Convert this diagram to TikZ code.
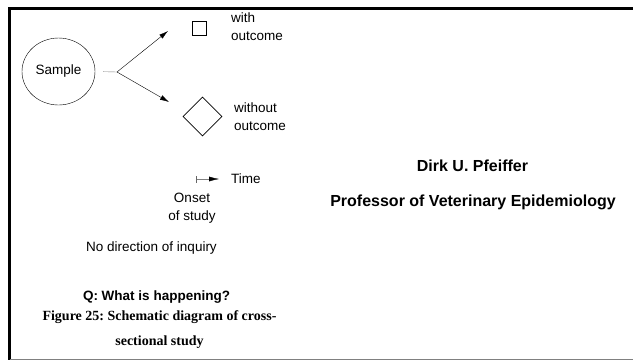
\documentclass[tikz,border=0pt]{standalone}
\usepackage{fontspec}
\setmainfont{Liberation Sans}
\newfontfamily\capfont{Liberation Serif}
\usepackage{tikz}
\usetikzlibrary{arrows.meta,positioning,shapes.geometric}
\frenchspacing

\begin{document}
\begin{tikzpicture}[x=1pt,y=-1pt,
  font=\fontsize{13.5}{18}\selectfont,
  txt/.style={inner sep=0pt,align=left},
  arr/.style={-{Latex[length=9pt,width=5pt]},thin},
  frame/.style={line width=2.5pt}
]
\useasboundingbox (0,0) rectangle (633,360);
% frame of the slide
\draw[frame] (633,8.5) -- (9.5,8.5) -- (9.5,360);
\draw[gray,thin] (9.5,359.5) -- (633,359.5);

% sample and the two groups
\node[draw,ellipse,thin,minimum width=73pt,minimum height=67pt,inner sep=0pt] (sample) at (58.5,71.5) {Sample};
\coordinate (split) at (117,72);
\node[draw,thick,minimum size=14pt,inner sep=0pt] (with) at (199,28.5) {};
\node[draw,thick,diamond,minimum size=39pt,inner sep=0pt] (without) at (202.5,116.5) {};
\coordinate (withend) at (168,31);
\coordinate (withoutend) at (169,102);
\node[txt,anchor=west] (withlbl) at (231,27) {with\\outcome};
\node[txt,anchor=west] (withoutlbl) at (234,117) {without\\outcome};

\draw[gray,thin,shorten <=8pt] (sample.east) -- (split);
\draw[arr] (split) -- (withend);
\draw[arr] (split) -- (withoutend);

% time axis
\coordinate (onset) at (196,179);
\coordinate (timeend) at (219,179);
\node[txt,anchor=west] (time) at (231,179) {Time};
\draw[gray,thin,{Bar[width=7pt,black!60]}-{Latex[black,length=10pt,width=5pt]}] (onset) -- (timeend);
\node[txt,align=center] (onsetlbl) at (192,208) {Onset\\of study};
\node[txt] (inquiry) at (151.5,248) {No direction of inquiry};
\node[txt,font=\fontsize{13.5}{18}\selectfont\bfseries] (question) at (156.5,297) {Q: What is happening?};
\node[txt,align=center,font=\capfont\fontsize{14}{25}\selectfont\bfseries] (caption) at (159.5,329.5) {Figure 25: Schematic diagram of cross-\\sectional study};

% author
\node[txt,font=\fontsize{16}{18}\selectfont\bfseries] (author) at (472.5,166) {Dirk U. Pfeiffer};
\node[txt,font=\fontsize{16}{18}\selectfont\bfseries] (title) at (473,202) {Professor of Veterinary Epidemiology};
\end{tikzpicture}
\end{document}
